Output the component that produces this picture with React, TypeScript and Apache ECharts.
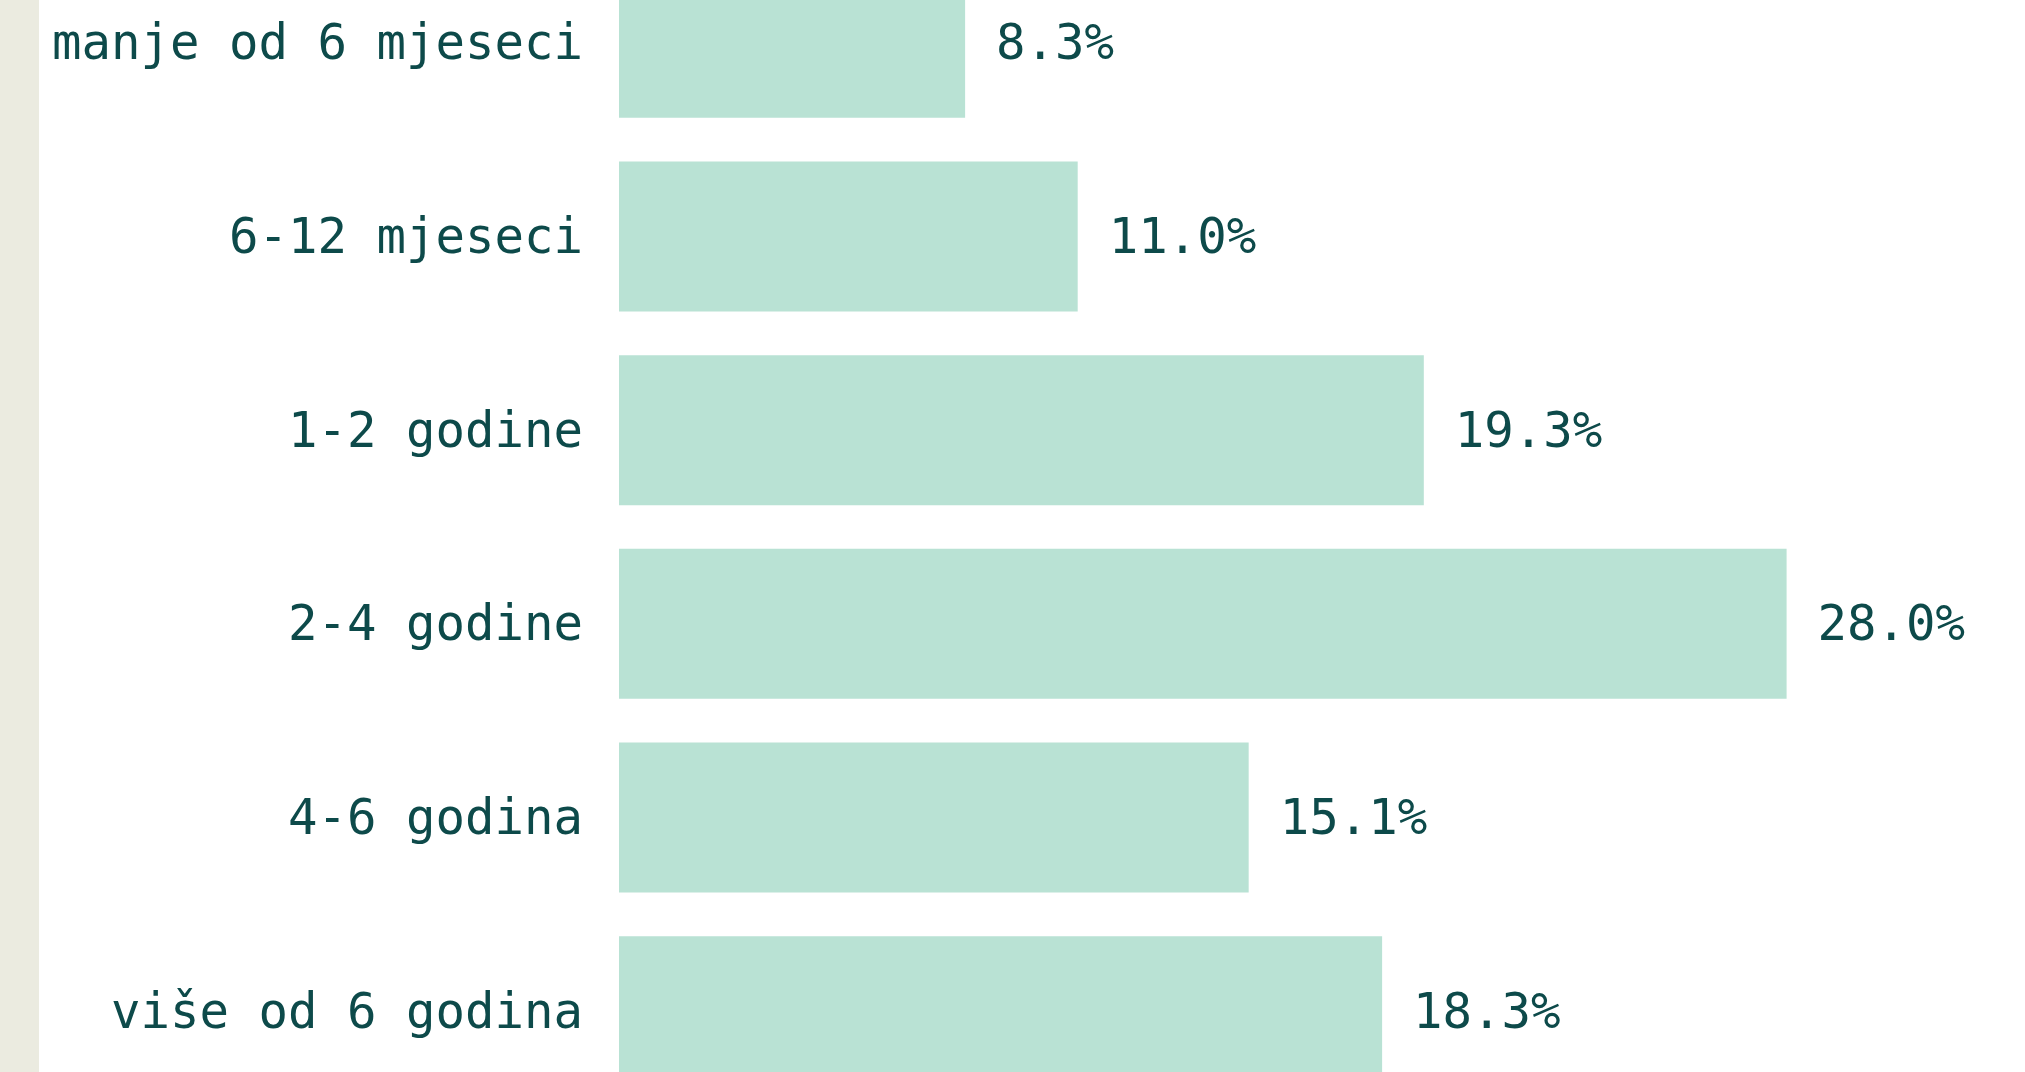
import React, { useEffect, useRef } from "react";
import * as echarts from "echarts";

const categories = [
  "manje od 6 mjeseci",
  "6-12 mjeseci",
  "1-2 godine",
  "2-4 godine",
  "4-6 godina",
  "više od 6 godina",
];
const values = [8.3, 11.0, 19.3, 28.0, 15.1, 18.3];

const TEXT = "#0d4a4a";
const BAR = "#b9e2d4";
const STRIPE = "#ebebe0";
const FONT = "'DejaVu Sans Mono', 'Liberation Mono', monospace";

export default function App() {
  const ref = useRef<HTMLDivElement>(null);
  useEffect(() => {
    document.body.style.margin = "0";
    const chart = echarts.init(ref.current!, null, { renderer: "svg" });
    chart.setOption({
      animation: false,
      backgroundColor: "#ffffff",
      graphic: [
        {
          type: "rect",
          left: 0,
          top: 0,
          shape: { width: 39, height: 1162 },
          style: { fill: STRIPE },
          silent: true,
        },
      ],
      grid: { left: 619, top: 0, height: 1162, width: 1251, containLabel: false },
      xAxis: {
        type: "value",
        min: 0,
        max: 30,
        show: false,
      },
      yAxis: {
        type: "category",
        data: categories,
        inverse: true,
        axisLine: { show: false },
        axisTick: { show: false },
        splitLine: { show: false },
        axisLabel: {
          margin: 36,
          fontFamily: FONT,
          fontSize: 49,
          color: TEXT,
        },
      },
      series: [
        {
          type: "bar",
          data: values,
          barWidth: 150,
          itemStyle: { color: BAR },
          label: {
            show: true,
            position: "right",
            distance: 31,
            fontFamily: FONT,
            fontSize: 49,
            color: TEXT,
            formatter: (p: any) => `${Number(p.value).toFixed(1)}%`,
          },
        },
      ],
    });
    return () => chart.dispose();
  }, []);
  return (
    <div
      style={{
        position: "fixed",
        left: 0,
        top: 0,
        width: 2025,
        height: 1072,
        overflow: "hidden",
        background: "#ffffff",
      }}
    >
      <div
        ref={ref}
        style={{ position: "absolute", left: 0, top: -54, width: 2025, height: 1162 }}
      />
    </div>
  );
}
